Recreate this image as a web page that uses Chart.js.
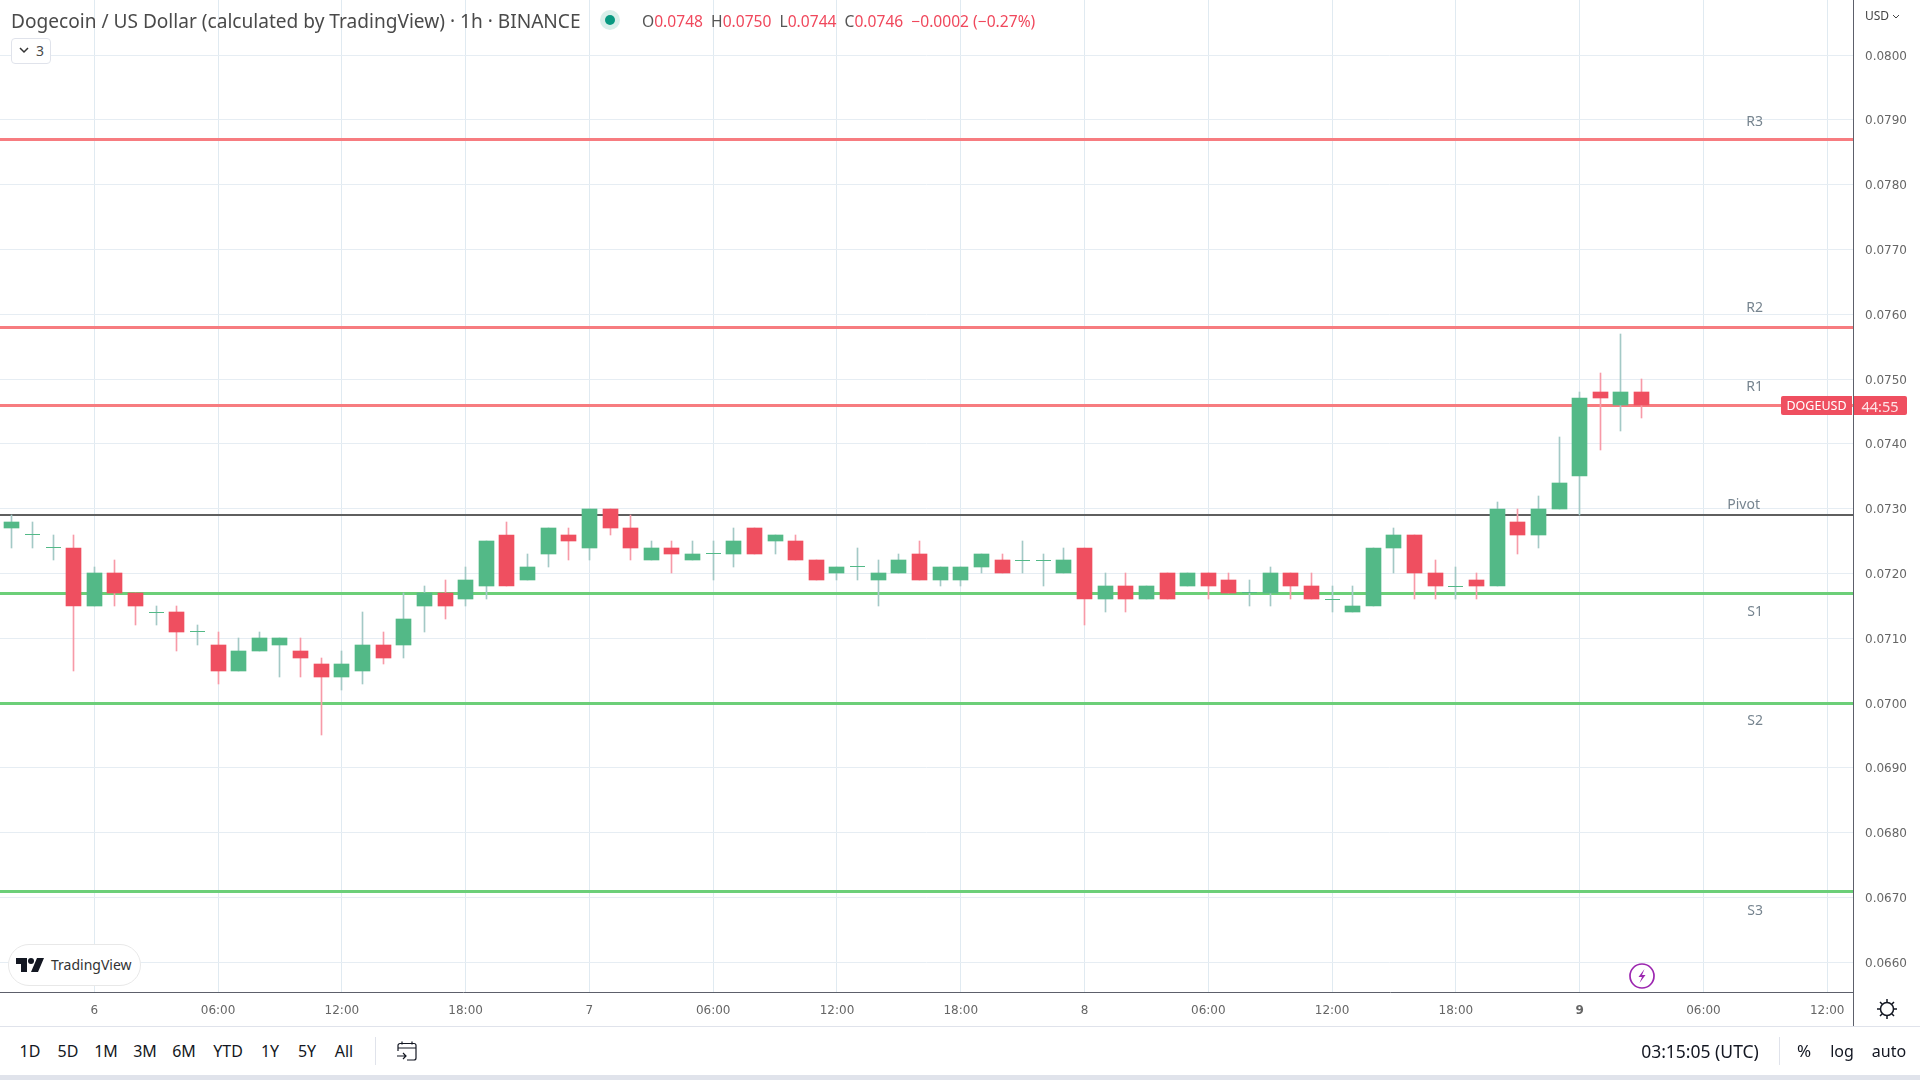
<!DOCTYPE html>
<html>
<head>
<meta charset="utf-8">
<title>DOGEUSD</title>
<script src="https://cdn.jsdelivr.net/npm/chart.js@4"></script>
<style>
  html, body { margin: 0; padding: 0; background: #fff; overflow: hidden; }
  body { width: 1920px; height: 1080px; position: relative; font-family: "Noto Sans", sans-serif; color: #131722; }
  canvas { position: absolute; left: 0; top: 0; }
  .t { position: absolute; white-space: nowrap; line-height: 20px; }
  .tool { font-size: 16px; top: 1041px; transform: translateX(-50%); color: #131722; }
  .pivot { font-size: 14px; color: #76848f; right: 157px; }
  .rule { position: absolute; }
  svg { position: absolute; }
</style>
</head>
<body>
<canvas id="chart" width="1920" height="1026"></canvas>

<div class="t" style="left:11px;top:11px;font-size:19.1px;color:#4a4a4a">Dogecoin / US Dollar (calculated by TradingView) · 1h · BINANCE</div>
<div class="rule" style="left:600px;top:10px;width:20px;height:20px;border-radius:50%;background:#d8efea"></div>
<div class="rule" style="left:605px;top:15px;width:10px;height:10px;border-radius:50%;background:#089981"></div>
<div class="t" style="left:642px;top:11px;font-size:15.6px;color:#f0485c"><span style="color:#555">O</span>0.0748&nbsp; <span style="color:#555">H</span>0.0750&nbsp; <span style="color:#555">L</span>0.0744&nbsp; <span style="color:#555">C</span>0.0746&nbsp; −0.0002 (−0.27%)</div>
<div class="rule" style="left:11px;top:38px;width:38px;height:24px;border:1px solid #e0e3eb;border-radius:4px;background:#fff"></div>
<svg style="left:19px;top:47px" width="10" height="7" viewBox="0 0 10 7"><path d="M1 1l4 4 4-4" fill="none" stroke="#333" stroke-width="1.5"/></svg>
<div class="t" style="left:36px;top:41px;font-size:14px;color:#4a4a4a">3</div>

<div class="t" style="left:1865px;top:6px;font-size:12px;color:#444">USD</div>
<svg style="left:1892px;top:14px" width="8" height="5" viewBox="0 0 8 5"><path d="M1 1l3 3 3-3" fill="none" stroke="#444"/></svg>

<div class="t pivot" style="top:111px">R3</div>
<div class="t pivot" style="top:297px">R2</div>
<div class="t pivot" style="top:376px">R1</div>
<div class="t pivot" style="top:494px;right:160px">Pivot</div>
<div class="t pivot" style="top:601px">S1</div>
<div class="t pivot" style="top:710px">S2</div>
<div class="t pivot" style="top:900px">S3</div>

<div class="rule" style="left:1781px;top:396px;width:71px;height:19px;background:#ef4f60;border-radius:2px 0 0 2px"></div>
<div class="t" style="left:1781px;width:71px;text-align:center;top:396px;font-size:12.5px;color:#fff">DOGEUSD</div>
<div class="rule" style="left:1853px;top:396px;width:54px;height:19px;background:#ef4f60;border-radius:0 2px 2px 0"></div>
<div class="t" style="left:1853px;width:54px;text-align:center;top:396px;font-size:14.5px;color:#fde3e6">44:55</div>

<div class="rule" style="left:8px;top:944px;width:131px;height:40px;border:1px solid #e8e8e8;border-radius:21px;background:#fff"></div>
<svg style="left:16px;top:958px" width="28" height="14" viewBox="0 0 28 14"><path d="M0 0h11v14H5V6H0zM21 0h7l-6 14h-7z" fill="#131722"/><circle cx="15" cy="3" r="3" fill="#131722"/></svg>
<div class="t" style="left:51px;top:955px;font-size:14px;color:#333">TradingView</div>

<svg style="left:1628px;top:962px" width="28" height="28" viewBox="0 0 28 28"><circle cx="14" cy="14" r="12" fill="#fff" stroke="#9c27b0" stroke-width="1.7"/><path d="M16.5 7l-6 8h3.5l-2.5 6 6-8h-3.5z" fill="#9c27b0"/></svg>
<svg style="left:1876px;top:998px" width="22" height="22" viewBox="0 0 22 22"><circle cx="11" cy="11" r="6.5" fill="none" stroke="#131722" stroke-width="1.5"/><path d="M11 1v3M11 18v3M1 11h3M18 11h3M4 4l2 2M16 16l2 2M4 18l2-2M16 6l2-2" stroke="#131722" stroke-width="1.5"/></svg>

<div class="rule" style="left:1853px;top:0;width:1px;height:1026px;background:#5d606b"></div>
<div class="rule" style="left:0;top:1026px;width:1920px;height:1px;background:#e0e3eb"></div>
<div class="rule" style="left:0;top:1075px;width:1920px;height:5px;background:#e0e3eb"></div>

<div class="t tool" style="left:30px">1D</div>
<div class="t tool" style="left:68px">5D</div>
<div class="t tool" style="left:106px">1M</div>
<div class="t tool" style="left:145px">3M</div>
<div class="t tool" style="left:184px">6M</div>
<div class="t tool" style="left:228px">YTD</div>
<div class="t tool" style="left:270px">1Y</div>
<div class="t tool" style="left:307px">5Y</div>
<div class="t tool" style="left:344px">All</div>
<div class="rule" style="left:375px;top:1037px;width:1px;height:28px;background:#e0e3eb"></div>
<svg style="left:396px;top:1040px" width="22" height="22" viewBox="0 0 22 22"><path d="M2 11V5.5a2 2 0 0 1 2-2h14a2 2 0 0 1 2 2V18a2 2 0 0 1-2 2h-7M2 8h18M6 1.5v3M16 1.5v3M1 16h9M7 13l3 3-3 3" fill="none" stroke="#131722" stroke-width="1.2"/></svg>
<div class="t tool" style="left:1700px;font-size:17.5px">03:15:05 (UTC)</div>
<div class="rule" style="left:1779px;top:1037px;width:1px;height:28px;background:#e0e3eb"></div>
<div class="t tool" style="left:1804px;font-size:17px">%</div>
<div class="t tool" style="left:1842px">log</div>
<div class="t tool" style="left:1889px">auto</div>

<script>
// hours counted from 6th 00:00
const hours = [-4, -3, -2, -1, 0, 1, 2, 3, 4, 5, 6, 7, 8, 9, 10, 11, 12, 13, 14, 15, 16, 17, 18, 19, 20, 21, 22, 23, 24, 25, 26, 27, 28, 29, 30, 31, 32, 33, 34, 35, 36, 37, 38, 39, 40, 41, 42, 43, 44, 45, 46, 47, 48, 49, 50, 51, 52, 53, 54, 55, 56, 57, 58, 59, 60, 61, 62, 63, 64, 65, 66, 67, 68, 69, 70, 71, 72, 73, 74, 75];
const opens = [.0727, .0726, .0724, .0724, .0715, .0720, .0717, .0714, .0714, .0711, .0709, .0705, .0708, .0709, .0708, .0706, .0704, .0705, .0709, .0709, .0715, .0717, .0716, .0718, .0726, .0719, .0723, .0726, .0724, .0730, .0727, .0722, .0724, .0722, .0723, .0723, .0727, .0725, .0725, .0722, .0720, .0721, .0719, .0720, .0723, .0719, .0719, .0721, .0722, .0722, .0722, .0720, .0724, .0716, .0718, .0716, .0720, .0718, .0720, .0719, .0717, .0717, .0720, .0718, .0716, .0714, .0715, .0724, .0726, .0720, .0718, .0719, .0718, .0728, .0726, .0730, .0735, .0748, .0746, .0748];
const highs = [.0729, .0728, .0726, .0726, .0721, .0722, .0717, .0715, .0715, .0712, .0711, .0710, .0711, .0710, .0710, .0707, .0708, .0714, .0711, .0717, .0718, .0719, .0721, .0725, .0728, .0723, .0727, .0727, .0730, .0730, .0729, .0725, .0725, .0725, .0725, .0727, .0727, .0726, .0726, .0722, .0721, .0724, .0722, .0723, .0725, .0721, .0721, .0723, .0723, .0725, .0723, .0724, .0724, .0720, .0720, .0718, .0720, .0720, .0720, .0720, .0719, .0721, .0720, .0720, .0718, .0718, .0724, .0727, .0726, .0722, .0721, .0720, .0731, .0730, .0732, .0741, .0748, .0751, .0757, .0750];
const lows = [.0724, .0724, .0722, .0705, .0715, .0715, .0712, .0712, .0708, .0709, .0703, .0705, .0708, .0704, .0704, .0695, .0702, .0703, .0706, .0707, .0711, .0713, .0715, .0716, .0718, .0719, .0721, .0722, .0722, .0726, .0722, .0722, .0720, .0722, .0719, .0721, .0723, .0723, .0722, .0719, .0719, .0719, .0715, .0720, .0719, .0718, .0718, .0720, .0720, .0720, .0718, .0720, .0712, .0714, .0714, .0716, .0716, .0718, .0716, .0717, .0715, .0715, .0716, .0716, .0714, .0714, .0715, .0720, .0716, .0716, .0716, .0716, .0718, .0723, .0724, .0730, .0729, .0739, .0742, .0744];
const closes = [.0728, .0726, .0724, .0715, .0720, .0717, .0715, .0714, .0711, .0711, .0705, .0708, .0710, .0710, .0707, .0704, .0706, .0709, .0707, .0713, .0717, .0715, .0719, .0725, .0718, .0721, .0727, .0725, .0730, .0727, .0724, .0724, .0723, .0723, .0723, .0725, .0723, .0726, .0722, .0719, .0721, .0721, .0720, .0722, .0719, .0721, .0721, .0723, .0720, .0722, .0722, .0722, .0716, .0718, .0716, .0718, .0716, .0720, .0718, .0717, .0717, .0720, .0718, .0716, .0716, .0715, .0724, .0726, .0720, .0718, .0718, .0718, .0730, .0726, .0730, .0734, .0747, .0747, .0748, .0746];

const pivotNames = ['R3', 'R2', 'R1', 'Pivot', 'S1', 'S2', 'S3'];
const pivotLevels = [.0787, .0758, .0746, .0729, .0717, .0700, .0671];

const priceTicks = [.0660, .0670, .0680, .0690, .0700, .0710, .0720, .0730, .0740, .0750, .0760, .0770, .0780, .0790, .0800];
const timeTicks = [0, 6, 12, 18, 24, 30, 36, 42, 48, 54, 60, 66, 72, 78, 84];
const timeLabels = ['6', '06:00', '12:00', '18:00', '7', '06:00', '12:00', '18:00', '8', '06:00', '12:00', '18:00', '9', '06:00', '12:00'];

const xMin = -4.571, xMax = 85.25;
const yMin = 0.06554, yMax = 0.08085;

const upBody = '#53b987', downBody = '#ef4f60';
const upWick = '#a3c9c6', downWick = '#f79aa8';

const isDoji = i => opens[i] === closes[i];
const isUp = i => closes[i] >= opens[i];

const wickData = hours.map((h, i) => ({ x: h, y: [lows[i], highs[i]] }));
const bodyData = hours.map((h, i) => ({ x: h, y: [opens[i], closes[i]] })).filter((d, i) => !isDoji(i));
const bodyColors = hours.filter((h, i) => !isDoji(i)).map(h => isUp(hours.indexOf(h)) ? upBody : downBody);
const dojiData = hours.map((h, i) => ({ x: h, y: opens[i] })).filter((d, i) => isDoji(i));

function pivotColor(name) {
  if (name === 'Pivot') return '#5f5f5f';
  return name[0] === 'R' ? '#f77c80' : '#6ccf78';
}

const pivotSets = pivotNames.map((name, i) => ({
  type: 'line',
  label: name,
  data: [{ x: xMin, y: pivotLevels[i] }, { x: xMax, y: pivotLevels[i] }],
  borderColor: pivotColor(name),
  borderWidth: name === 'Pivot' ? 2 : 3,
  pointRadius: 0,
  order: 5
}));

// keep the candles and pivot lines on whole pixels like the original
const snapCandles = {
  id: 'snapCandles',
  afterDatasetsUpdate(chart) {
    chart.data.datasets.forEach((ds, i) => {
      const els = chart.getDatasetMeta(i).data;
      if (ds.type === 'bar') {
        els.forEach(el => {
          el.x = Math.floor(el.x) + 0.5;
          el.y = Math.round(el.y);
          el.base = Math.round(el.base);
        });
      } else if (ds.type === 'scatter') {
        els.forEach(el => {
          el.x = Math.floor(el.x) + 0.5;
          el.y = Math.floor(el.y) + 0.5;
        });
      } else {
        els.forEach(el => {
          el.y = ds.borderWidth === 2 ? Math.round(el.y) : Math.round(el.y) + 0.5;
        });
      }
    });
  }
};

new Chart(document.getElementById('chart'), {
  data: {
    datasets: [
      ...pivotSets,
      {
        type: 'bar',
        label: 'wicks',
        data: wickData,
        grouped: false,
        barThickness: 1,
        backgroundColor: hours.map((h, i) => isUp(i) ? upWick : downWick),
        order: 3
      },
      {
        type: 'bar',
        label: 'bodies',
        data: bodyData,
        grouped: false,
        barThickness: 15,
        backgroundColor: bodyColors,
        order: 2
      },
      {
        type: 'scatter',
        label: 'doji',
        data: dojiData,
        pointStyle: 'line',
        pointRadius: 7.5,
        pointHoverRadius: 7.5,
        borderWidth: 1,
        borderColor: upBody,
        order: 1
      }
    ]
  },
  plugins: [snapCandles],
  options: {
    responsive: false,
    animation: false,
    layout: { padding: 0, autoPadding: false },
    plugins: { legend: { display: false }, tooltip: { enabled: false } },
    scales: {
      x: {
        type: 'linear',
        offset: false,
        min: xMin,
        max: xMax,
        afterBuildTicks: scale => { scale.ticks = timeTicks.map(v => ({ value: v })); },
        afterFit: scale => { scale.height = 34; scale.paddingLeft = 0; scale.paddingRight = 0; },
        border: { color: '#5d606b', width: 1 },
        grid: { color: '#e0eaf1', drawTicks: false, offset: false },
        ticks: {
          autoSkip: false,
          maxRotation: 0,
          padding: 12,
          color: '#666',
          font: ctx => ({ family: 'DejaVu Sans', size: 12, weight: timeLabels[ctx.index] === '9' ? 'bold' : 'normal' }),
          callback: (v, i) => timeLabels[i]
        }
      },
      y: {
        type: 'linear',
        position: 'right',
        min: yMin,
        max: yMax,
        afterBuildTicks: scale => { scale.ticks = priceTicks.map(v => ({ value: v })); },
        afterFit: scale => { scale.width = 67; scale.paddingTop = 0; scale.paddingBottom = 0; },
        border: { display: false },
        grid: { color: '#e6edf3', drawTicks: false },
        ticks: {
          autoSkip: false,
          padding: 12,
          labelOffset: 1.5,
          color: '#666',
          font: { family: 'DejaVu Sans', size: 12 },
          callback: v => v.toFixed(4)
        }
      }
    }
  }
});
</script>
</body>
</html>
